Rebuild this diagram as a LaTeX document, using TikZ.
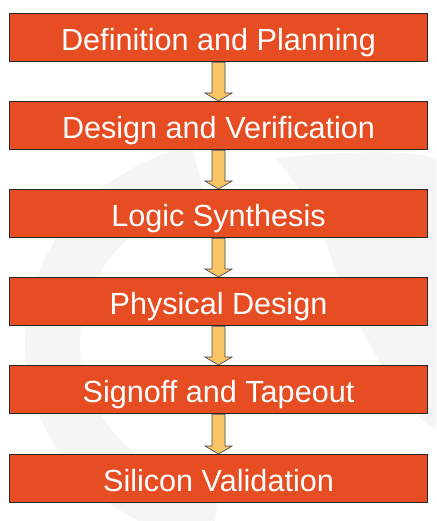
\documentclass[tikz,border=0pt]{standalone}
\usepackage{fontspec}
\setmainfont{Liberation Sans}
\usetikzlibrary{calc}
\definecolor{boxfill}{RGB}{231,77,34}
\definecolor{arrfill}{RGB}{249,196,102}
\definecolor{wm}{RGB}{245,245,245}
\begin{document}
\begin{tikzpicture}[x=1pt,y=-1pt,
  stagebox/.style={draw=black!85, line width=0.8pt, fill=boxfill,
    minimum width=418pt, minimum height=48pt, inner sep=0pt,
    text height=21.5pt, text depth=0pt,
    text=white, font=\fontsize{30.6}{36}\selectfont, anchor=north},
  flowarrow/.style={draw=black!70, line width=0.7pt, fill=arrfill, line join=miter}]
\useasboundingbox (0,0) rectangle (436,521);
\fill[white] (0,0) rectangle (436,521);
% faint watermark
\draw[wm, line width=55pt] (250,340) ++(100:{200 and 180}) arc[start angle=100, end angle=255, x radius=197, y radius=177];
\fill[wm] (275,158) .. controls (360,150) and (420,150) .. (436,160) -- (436,430)
  .. controls (400,410) and (360,330) .. (335,270) .. controls (320,220) and (300,185) .. cycle;
% stages
\node[stagebox] (s1) at (218.5,13)  {\raisebox{-2.8pt}{Definition and Planning}};
\node[stagebox] (s2) at (218.5,101) {\raisebox{-2.8pt}{Design and Verification}};
\node[stagebox] (s3) at (218.5,189) {\raisebox{-2.8pt}{Logic Synthesis}};
\node[stagebox] (s4) at (218.5,277) {\raisebox{-2.8pt}{Physical Design}};
\node[stagebox] (s5) at (218.5,365) {\raisebox{-2.8pt}{Signoff and Tapeout}};
\node[stagebox] (s6) at (218.5,454) {\raisebox{-2.8pt}{Silicon Validation}};
% block arrows
\foreach \a/\b in {s1/s2,s2/s3,s3/s4,s4/s5,s5/s6}{
  \draw[flowarrow] ($(\a.south)+(-6.5,0.5)$) -- ($(\b.north)+(-6.5,-8)$)
    -- ($(\b.north)+(-13.5,-8)$) -- (\b.north) -- ($(\b.north)+(13.5,-8)$)
    -- ($(\b.north)+(6.5,-8)$) -- ($(\a.south)+(6.5,0.5)$) -- cycle;
}
\end{tikzpicture}
\end{document}
